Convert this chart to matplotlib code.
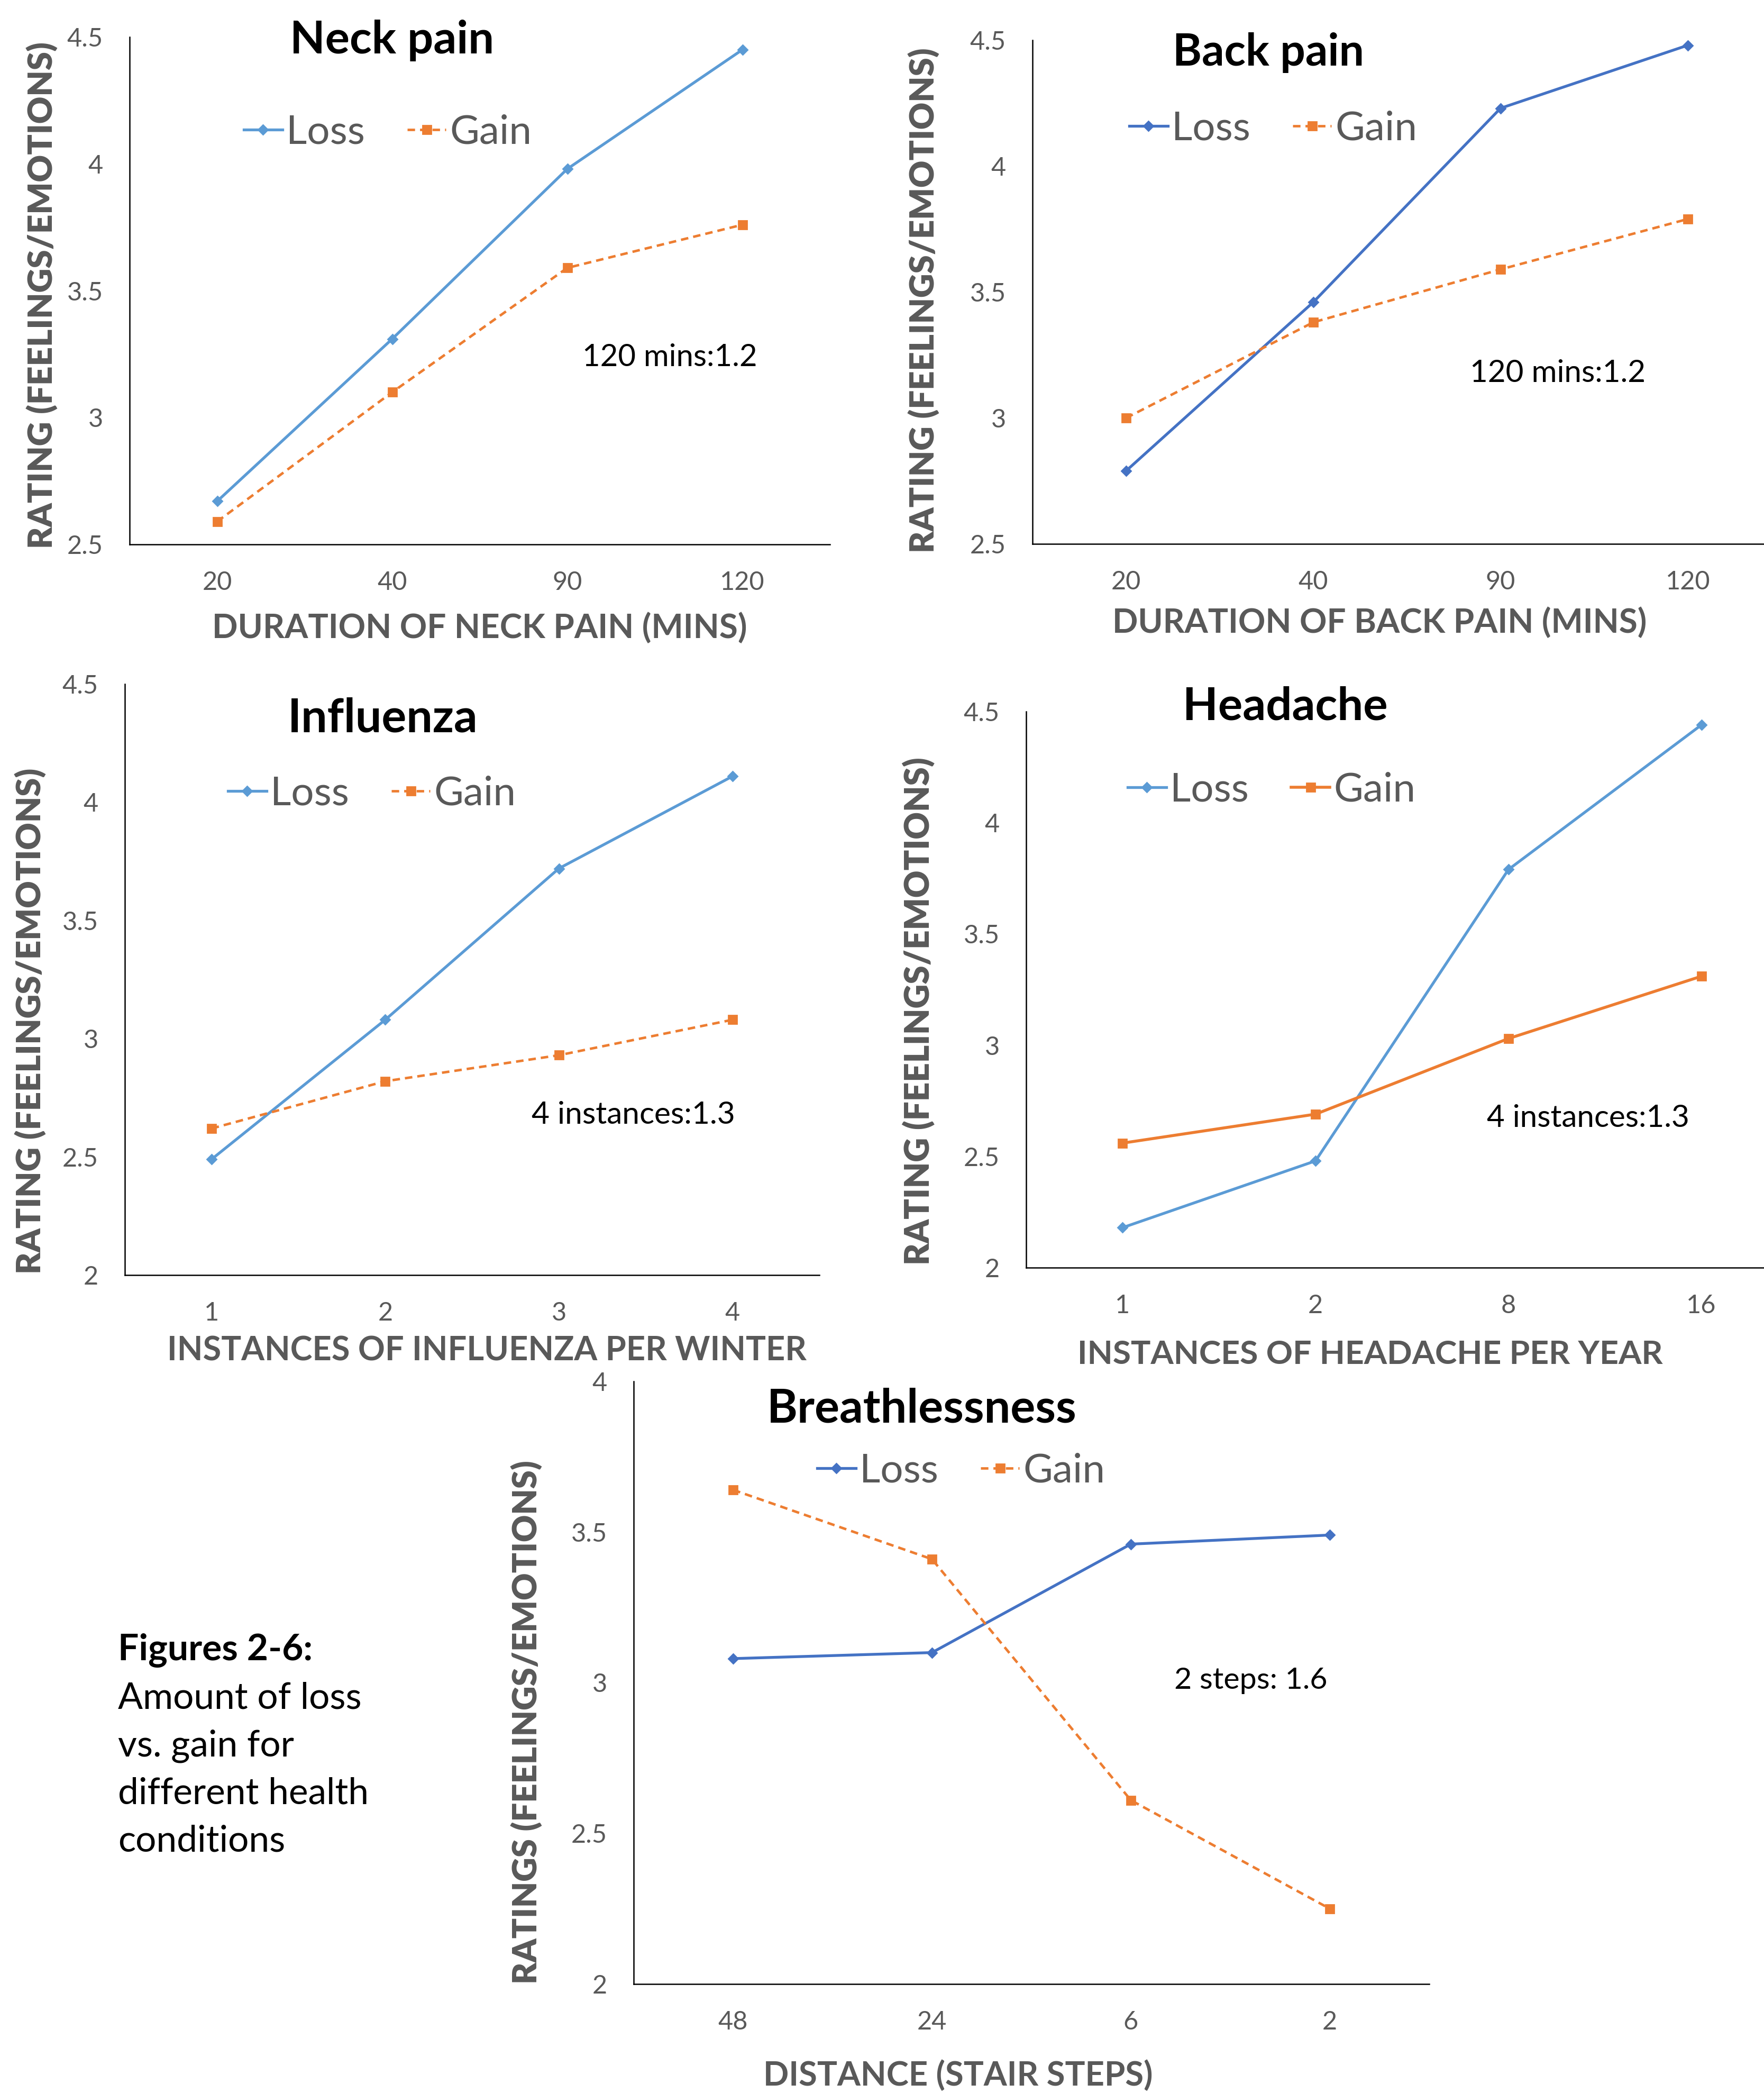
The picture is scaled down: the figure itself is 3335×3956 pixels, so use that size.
import matplotlib
matplotlib.use("Agg")
import matplotlib.pyplot as plt
from matplotlib import font_manager
from matplotlib.ticker import FuncFormatter

# data
neck_x = ["20", "40", "90", "120"]
neck_loss = [2.67, 3.31, 3.98, 4.45]
neck_gain = [2.59, 3.10, 3.59, 3.76]

back_x = ["20", "40", "90", "120"]
back_loss = [2.79, 3.46, 4.23, 4.48]
back_gain = [3.00, 3.38, 3.59, 3.79]

flu_x = ["1", "2", "3", "4"]
flu_loss = [2.49, 3.08, 3.72, 4.11]
flu_gain = [2.62, 2.82, 2.93, 3.08]

head_x = ["1", "2", "8", "16"]
head_loss = [2.18, 2.48, 3.79, 4.44]
head_gain = [2.56, 2.69, 3.03, 3.31]

breath_x = ["48", "24", "6", "2"]
breath_loss = [3.08, 3.10, 3.46, 3.49]
breath_gain = [3.64, 3.41, 2.61, 2.25]

caption = ["Amount of loss", "vs. gain for", "different health", "conditions"]

LIGHT_BLUE = "#5B9BD5"
DARK_BLUE = "#4472C4"
ORANGE = "#ED7D31"
GREY = "#595959"

have = {f.name for f in font_manager.fontManager.ttflist}
BODY = "Lato" if "Lato" in have else "DejaVu Sans"
plt.rcParams["font.family"] = [BODY, "DejaVu Sans"]

W, H = 3335, 3956
DPI = 200
fig = plt.figure(figsize=(W / DPI, H / DPI), dpi=DPI)
renderer = fig.canvas.get_renderer()


def fx(x):
    return x / W


def fy(y):
    return 1 - y / H


def fit(t, length):
    # scale the font so the text spans the same length as in the reference
    bb = t.get_window_extent(renderer)
    size = bb.height if t.get_rotation() == 90 else bb.width
    t.set_fontsize(t.get_fontsize() * length / size)
    return t


def put(x, y, s, length=None, **kw):
    t = fig.text(fx(x), fy(y), s, **kw)
    if length:
        fit(t, length)
    return t


def panel(box, cats, loss, gain, ylim, loss_color, gain_style, legend_at):
    l, t, r, b = box
    ax = fig.add_axes([fx(l), fy(b), (r - l) / W, (b - t) / H])
    ax.plot(cats, loss, color=loss_color, lw=1.9, marker="D", ms=4.5, label="Loss")
    ax.plot(cats, gain, color=ORANGE, lw=2.0 if gain_style == "-" else 1.7,
            ls=gain_style, marker="s", ms=6, label="Gain")
    ax.set_xlim(-0.5, 3.5)
    ax.set_ylim(*ylim)
    ax.set_yticks([v / 2 for v in range(int(ylim[0] * 2), int(ylim[1] * 2) + 1)])
    ax.yaxis.set_major_formatter(FuncFormatter(lambda v, p: f"{v:g}"))
    for s in ["top", "right"]:
        ax.spines[s].set_visible(False)
    for s in ["left", "bottom"]:
        ax.spines[s].set_color("black")
        ax.spines[s].set_linewidth(0.9)
    ax.tick_params(axis="both", length=0, labelsize=17.5, labelcolor=GREY)
    ax.tick_params(axis="y", pad=18)
    ax.tick_params(axis="x", pad=18)
    ax.set_facecolor("none")
    ax.legend(loc="center left", bbox_to_anchor=(fx(legend_at[0]), fy(legend_at[1])),
              bbox_transform=fig.transFigure, ncol=2, frameon=False, borderpad=0,
              borderaxespad=0, handlelength=0.95, handletextpad=0.1,
              columnspacing=1.05, fontsize=27.5, labelcolor=GREY)
    return ax


panel((245, 70, 1569, 1029), neck_x, neck_loss, neck_gain, (2.5, 4.5),
      LIGHT_BLUE, (0, (3, 2)), (461, 250))
panel((1952, 76, 3368, 1028), back_x, back_loss, back_gain, (2.5, 4.5),
      DARK_BLUE, (0, (3, 2)), (2135, 243))
panel((236, 1293, 1549, 2410), flu_x, flu_loss, flu_gain, (2.0, 4.5),
      LIGHT_BLUE, (0, (3, 2)), (431, 1500))
panel((1940, 1345, 3399, 2396), head_x, head_loss, head_gain, (2.0, 4.5),
      LIGHT_BLUE, "-", (2132, 1493))
panel((1198, 2611, 2702, 3750), breath_x, breath_loss, breath_gain, (2.0, 4.0),
      DARK_BLUE, (0, (3, 2)), (1545, 2780))

# titles
title_kw = dict(ha="center", va="center", fontweight="bold", color="black", fontsize=31)
put(741, 76, "Neck pain", 386, **title_kw)
put(2398, 100, "Back pain", 362, **title_kw)
put(724, 1358, "Influenza", 360, **title_kw)
put(2430, 1336, "Headache", 388, **title_kw)
put(1743, 2663, "Breathlessness", 586, **title_kw)

# x axis titles
xl_kw = dict(ha="center", va="center", fontweight="bold", color=GREY, fontsize=23)
put(907, 1186, "DURATION OF NECK PAIN (MINS)", 1011, **xl_kw)
put(2608, 1176, "DURATION OF BACK PAIN (MINS)", 1011, **xl_kw)
put(920, 2554, "INSTANCES OF INFLUENZA PER WINTER", 1206, **xl_kw)
put(2590, 2560, "INSTANCES OF HEADACHE PER YEAR", 1106, **xl_kw)
put(1811, 3923, "DISTANCE (STAIR STEPS)", 736, **xl_kw)

# y axis titles
yl_kw = dict(ha="center", va="center", fontweight="heavy", color=GREY, fontsize=24,
             rotation=90)
put(80, 558, "RATING (FEELINGS/EMOTIONS)", 957, **yl_kw)
put(1747, 568, "RATING (FEELINGS/EMOTIONS)", 953, **yl_kw)
put(58, 1930, "RATING (FEELINGS/EMOTIONS)", 956, **yl_kw)
put(1736, 1911, "RATING (FEELINGS/EMOTIONS)", 960, **yl_kw)
put(996, 3255, "RATINGS (FEELINGS/EMOTIONS)", 990, **yl_kw)

# notes inside the panels
note_kw = dict(ha="left", va="center", color="black", fontsize=20)
put(1101, 676, "120 mins:1.2", 330, **note_kw)
put(2779, 706, "120 mins:1.2", 332, **note_kw)
put(1005, 2108, "4 instances:1.3", 385, **note_kw)
put(2811, 2114, "4 instances:1.3", 383, **note_kw)
put(2220, 3177, "2 steps: 1.6", 289, **note_kw)

# caption
put(223, 3120, "Figures 2-6:", ha="left", va="center", fontweight="bold", fontsize=25)
for i, line in enumerate(caption):
    put(223, 3210 + i * 90, line, ha="left", va="center", fontsize=25)

fig.savefig("out.png", dpi=DPI)
